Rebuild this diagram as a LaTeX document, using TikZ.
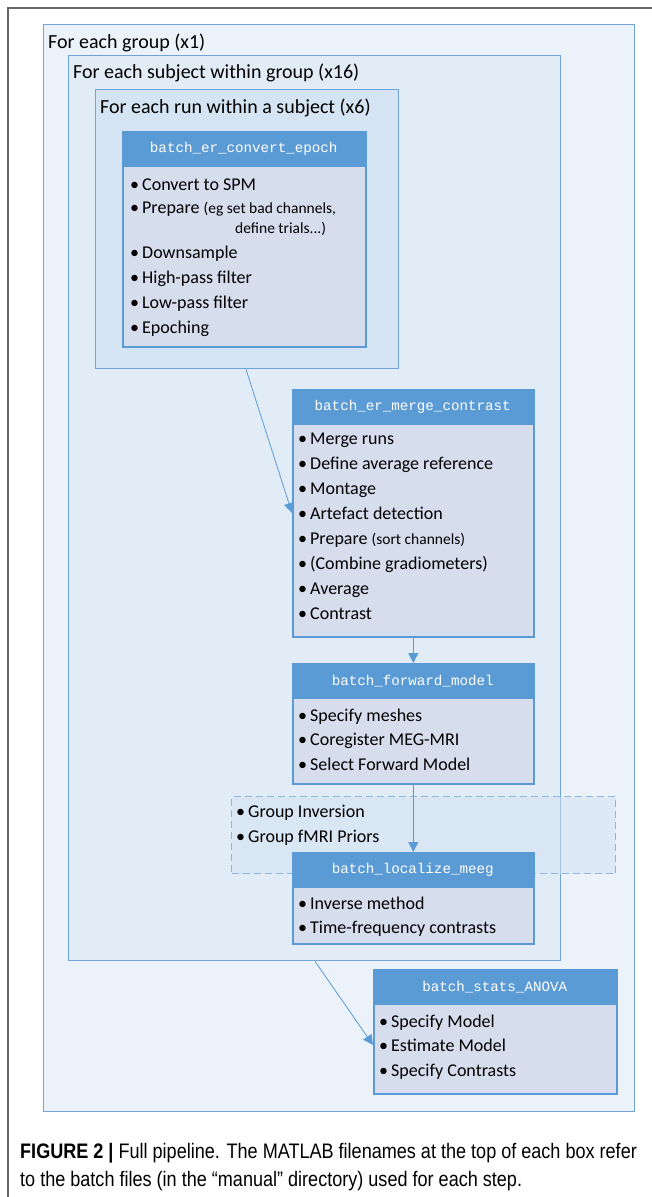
\documentclass[tikz,border=0pt]{standalone}
\usepackage{fontspec}
\setmainfont{Carlito}
\newfontfamily\hdrfont{Liberation Mono}
\newfontfamily\capfont[FakeStretch=0.86]{Liberation Sans}
\usetikzlibrary{arrows.meta}
\definecolor{hdrblue}{HTML}{5B9BD5}
\definecolor{frameblue}{HTML}{6FA3DA}
\definecolor{grpfill}{HTML}{EBF2F9}
\definecolor{subjfill}{HTML}{E2ECF6}
\definecolor{runfill}{HTML}{D5E4F2}
\definecolor{bodyfill}{HTML}{D6DEEE}
\definecolor{dashfill}{HTML}{D3E2F1}
\definecolor{dashblue}{HTML}{8DB6E0}
\newcommand{\blt}{\makebox[12pt][l]{\textbullet}}
\newcommand{\smalltxt}{\fontsize{15.5}{18}\selectfont}
\tikzset{
  loopframe/.style={draw=frameblue, line width=1.3pt, anchor=north west, inner sep=0pt},
  body/.style={draw=hdrblue, fill=bodyfill, line width=1.6pt, anchor=north west, inner sep=0pt},
  hdr/.style={fill=hdrblue, anchor=north west, inner sep=0pt, minimum height=36, text=white,
    font=\hdrfont\fontsize{14.2}{16}\selectfont},
  item/.style={anchor=base west, inner sep=0pt, font=\fontsize{18}{20}\selectfont},
  looptitle/.style={anchor=base west, inner sep=0pt, font=\fontsize{20}{24}\selectfont},
  flow/.style={draw=hdrblue, line width=0.8pt, -{Triangle[length=10pt,width=10pt]}}
}

\begin{document}
\begin{tikzpicture}[x=1pt, y=-1pt]
		%%%%% START %%%%%
		\useasboundingbox (0,0) rectangle (652,1197);
		\fill[white] (0,0) rectangle (652,1197);
		\draw[line width=1.5pt, black!60] (652,8) -| (8,1197);
		
		% nested loops
		\node[loopframe, fill=grpfill, minimum width=591, minimum height=1087] (grp) at (43,24) {};
		\node[looptitle] (grpt) at (48,48) {For each group (x1)};
		\node[loopframe, fill=subjfill, minimum width=492, minimum height=905] (subj) at (68,55) {};
		\node[looptitle] (subjt) at (73,78) {For each subject within group (x16)};
		\node[loopframe, fill=runfill, minimum width=303, minimum height=279] (run) at (95,89) {};
		\node[looptitle] (runt) at (100,113) {For each run within a subject (x6)};
		
		% convert
		\node[body, minimum width=243, minimum height=215] (conv) at (122,131) {};
		\node[hdr, minimum width=243] (convh) at (122,131) {batch\_er\_convert\_epoch};
		\foreach \yy/\t [count=\i] in {190/{\blt Convert to SPM},
		    213/{\blt Prepare {\smalltxt(eg set bad channels,}},
		    258/{\blt Downsample}, 283/{\blt High-pass filter},
		    308/{\blt Low-pass filter}, 333/{\blt Epoching}}
		  \node[item] (conv\i) at (130,\yy) {\t};
		\node[item, font=\smalltxt] (conv7) at (235,233) {define trials...)};
		
		% merge
		\node[body, minimum width=241, minimum height=247] (merge) at (292,389) {};
		\node[hdr, minimum width=241] (mergeh) at (292,389) {batch\_er\_merge\_contrast};
		\foreach \t [count=\i from 0] in {Merge runs, Define average reference, Montage,
		    Artefact detection, {Prepare {\smalltxt(sort channels)}},
		    (Combine gradiometers), Average, Contrast}
		  \node[item] (merge\i) at (298,444+25*\i) {\blt\t};
		
		% forward
		\node[body, minimum width=241, minimum height=120] (fwd) at (292,663) {};
		\node[hdr, minimum width=241] (fwdh) at (292,663) {batch\_forward\_model};
		\foreach \t [count=\i from 0] in {Specify meshes, Coregister MEG-MRI, Select Forward Model}
		  \node[item] (fwd\i) at (298,721+24.5*\i) {\blt\t};
		
		% group inversion
		\node[anchor=north west, inner sep=0pt, draw=dashblue, line width=1.3pt,
		  dash pattern=on 7pt off 4pt, fill=dashfill, fill opacity=0.55,
		  minimum width=384, minimum height=77] (ginv) at (231,796) {};
		\node[item] (ginv0) at (236,817) {\blt Group Inversion};
		\node[item] (ginv1) at (236,842) {\blt Group fMRI Priors};
		
		% localize
		\node[body, minimum width=241, minimum height=91] (loc) at (292,852) {};
		\node[hdr, minimum width=241] (loch) at (292,852) {batch\_localize\_meeg};
		\node[item] (loc0) at (298,909) {\blt Inverse method};
		\node[item] (loc1) at (298,933) {\blt Time-frequency contrasts};
		
		% stats
		\node[body, minimum width=243, minimum height=124] (stats) at (373,969) {};
		\node[hdr, minimum width=243] (statsh) at (373,969) {batch\_stats\_ANOVA};
		\foreach \t [count=\i from 0] in {Specify Model, Estimate Model, Specify Contrasts}
		  \node[item] (stats\i) at (379,1027+24.5*\i) {\blt\t};
		
		% arrows
		\coordinate (a1) at (246,0);
		\coordinate (t1) at (0,513);
		\coordinate (a4) at (315,0);
		\coordinate (t4) at (0,1045);
		\draw[flow] (run.south -| a1) -- (merge.west |- t1);
		\draw[flow] (merge.south) -- (fwd.north);
		\draw[flow] (fwd.south) -- (loc.north);
		\draw[flow] (subj.south -| a4) -- (stats.west |- t4);
		
		% caption
		\node[anchor=base west, inner sep=0pt, font=\capfont\fontsize{21}{25}\selectfont] (cap1) at (20,1158)
		  {\textbf{FIGURE 2 |} Full pipeline. The MATLAB filenames at the top of each box refer};
		\node[anchor=base west, inner sep=0pt, font=\capfont\fontsize{21}{25}\selectfont] (cap2) at (20,1186)
		  {to the batch files (in the “manual” directory) used for each step.};
		
		%%%%% END %%%%%
	\end{tikzpicture}
\end{document}
